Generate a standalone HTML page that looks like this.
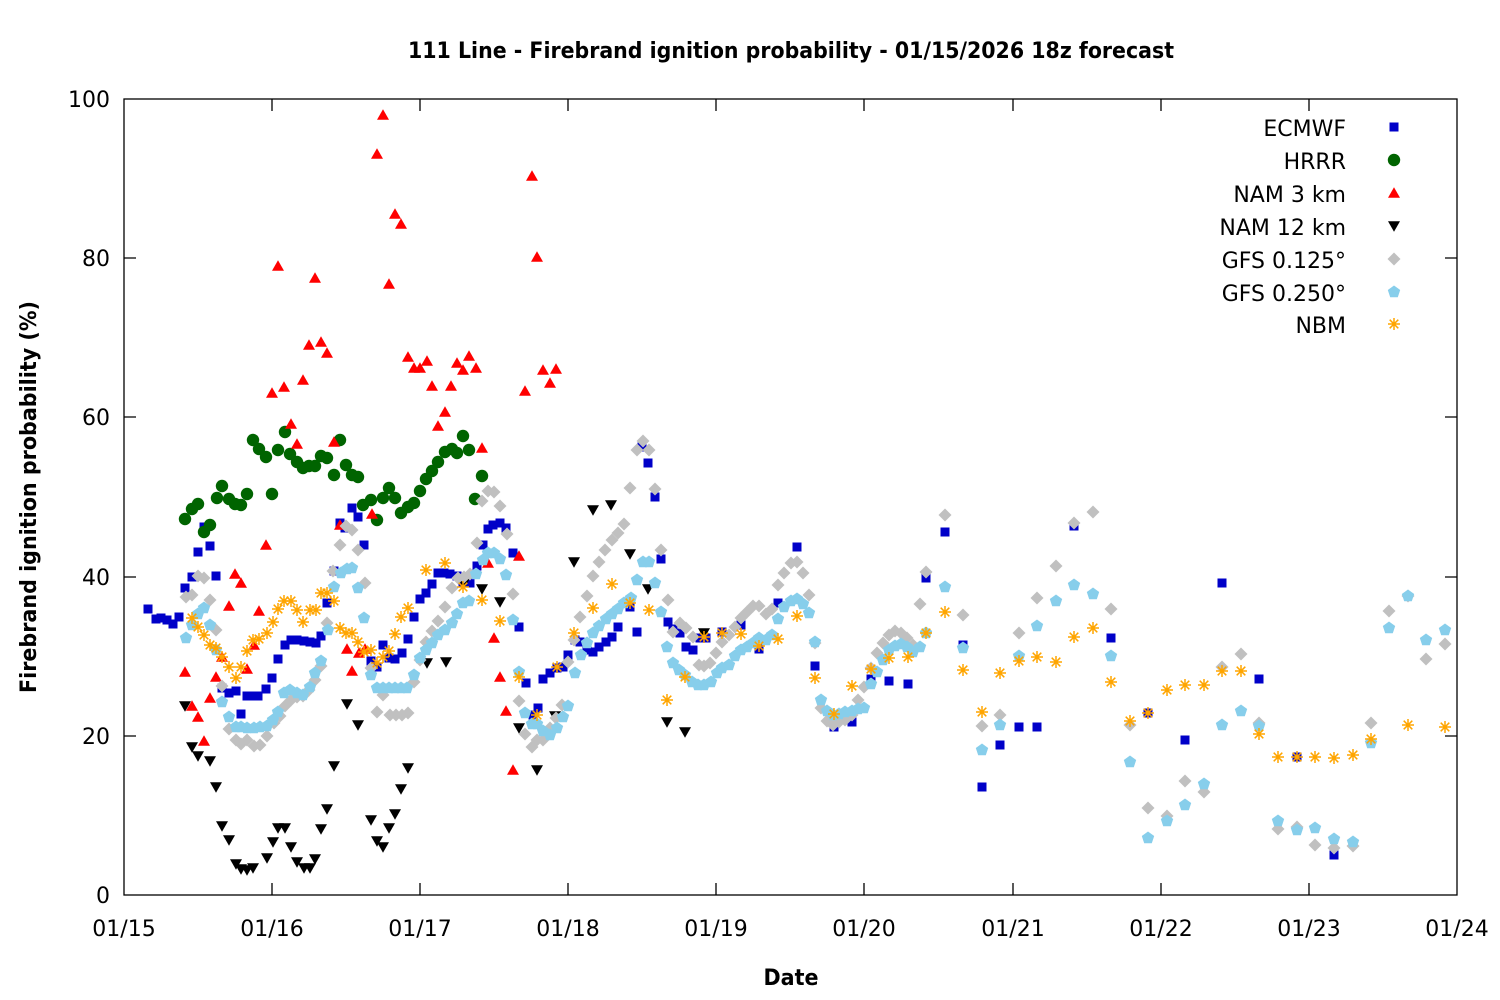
<!DOCTYPE html>
<html><head><meta charset="utf-8"><style>
html,body{margin:0;padding:0;background:#fff;}
svg{display:block;}
text{font-family:"DejaVu Sans","Liberation Sans",sans-serif;fill:#000;}
</style></head><body>
<svg width="1500" height="1000" viewBox="0 0 1500 1000" xmlns="http://www.w3.org/2000/svg" xmlns:xlink="http://www.w3.org/1999/xlink">
<defs>
<rect id="s" x="-4.5" y="-4.5" width="9" height="9" fill="#0000c8"/>
<circle id="c" r="6.2" fill="#006400"/>
<path id="u" d="M0,-5.8 L6,4.8 L-6,4.8Z" fill="#ff0000"/>
<path id="d" d="M0,5.8 L6,-4.8 L-6,-4.8Z" fill="#000"/>
<path id="g" d="M0,-6.5 L6.5,0 L0,6.5 L-6.5,0Z" fill="#c0c0c0"/>
<path id="p" d="M0,-6.5 L6.2,-2 L3.8,5.3 L-3.8,5.3 L-6.2,-2Z" fill="#87ceeb"/>
<path id="n" d="M-6,0H6M0,-6V6M-4.3,-4.3L4.3,4.3M-4.3,4.3L4.3,-4.3" stroke="#ffa500" stroke-width="1.5" fill="none"/>
</defs>
<rect width="1500" height="1000" fill="#fff"/>

<text x="791" y="58" font-size="22" font-weight="bold" text-anchor="middle" textLength="766" lengthAdjust="spacingAndGlyphs">111 Line - Firebrand ignition probability - 01/15/2026 18z forecast</text>

<!-- axes frame -->
<rect x="124" y="99" width="1333" height="796" fill="none" stroke="#000" stroke-width="1.3"/>
<g stroke="#000" stroke-width="1.3">
<path d="M124,736H136M124,577H136M124,417H136M124,258H136M1457,736H1445M1457,577H1445M1457,417H1445M1457,258H1445"/>
<path d="M272,895V883M420,895V883M568,895V883M716,895V883M864,895V883M1013,895V883M1161,895V883M1309,895V883M272,99V111M420,99V111M568,99V111M716,99V111M864,99V111M1013,99V111M1161,99V111M1309,99V111"/>
</g>
<g font-size="22" text-anchor="end">
<text x="110" y="107">100</text>
<text x="110" y="266">80</text>
<text x="110" y="425">60</text>
<text x="110" y="585">40</text>
<text x="110" y="744">20</text>
<text x="110" y="903">0</text>
</g>
<g font-size="22" text-anchor="middle">
<text x="124" y="936">01/15</text>
<text x="272" y="936">01/16</text>
<text x="420" y="936">01/17</text>
<text x="568" y="936">01/18</text>
<text x="716" y="936">01/19</text>
<text x="864" y="936">01/20</text>
<text x="1013" y="936">01/21</text>
<text x="1161" y="936">01/22</text>
<text x="1309" y="936">01/23</text>
<text x="1457" y="936">01/24</text>
</g>
<text x="791" y="985" font-size="22" font-weight="bold" text-anchor="middle" textLength="55" lengthAdjust="spacingAndGlyphs">Date</text>
<text transform="translate(36,497) rotate(-90)" font-size="22" font-weight="bold" text-anchor="middle" textLength="392" lengthAdjust="spacingAndGlyphs">Firebrand ignition probability (%)</text>

<!-- ECMWF -->
<g>
<use href="#s" x="148" y="609"/><use href="#s" x="156" y="619"/><use href="#s" x="161" y="618"/><use href="#s" x="167" y="620"/><use href="#s" x="173" y="624"/><use href="#s" x="179" y="617"/><use href="#s" x="185" y="588"/><use href="#s" x="192" y="577"/><use href="#s" x="198" y="552"/><use href="#s" x="204" y="527"/><use href="#s" x="210" y="546"/><use href="#s" x="216" y="576"/><use href="#s" x="222" y="688"/><use href="#s" x="229" y="693"/><use href="#s" x="236" y="691"/><use href="#s" x="241" y="714"/><use href="#s" x="247" y="696"/><use href="#s" x="252" y="696"/><use href="#s" x="258" y="696"/><use href="#s" x="266" y="689"/><use href="#s" x="272" y="678"/><use href="#s" x="278" y="659"/><use href="#s" x="285" y="645"/><use href="#s" x="291" y="640"/><use href="#s" x="297" y="640"/><use href="#s" x="304" y="641"/><use href="#s" x="310" y="642"/><use href="#s" x="316" y="643"/><use href="#s" x="321" y="636"/><use href="#s" x="327" y="603"/><use href="#s" x="334" y="571"/><use href="#s" x="340" y="523"/><use href="#s" x="345" y="528"/><use href="#s" x="352" y="508"/><use href="#s" x="358" y="517"/><use href="#s" x="364" y="545"/><use href="#s" x="371" y="661"/><use href="#s" x="377" y="667"/><use href="#s" x="383" y="645"/><use href="#s" x="389" y="658"/><use href="#s" x="395" y="659"/><use href="#s" x="402" y="653"/><use href="#s" x="408" y="639"/><use href="#s" x="414" y="617"/><use href="#s" x="420" y="599"/><use href="#s" x="426" y="593"/><use href="#s" x="432" y="584"/><use href="#s" x="438" y="573"/><use href="#s" x="444" y="573"/><use href="#s" x="450" y="574"/><use href="#s" x="457" y="576"/><use href="#s" x="463" y="582"/><use href="#s" x="470" y="583"/><use href="#s" x="477" y="566"/><use href="#s" x="483" y="545"/><use href="#s" x="488" y="529"/><use href="#s" x="493" y="525"/><use href="#s" x="500" y="523"/><use href="#s" x="506" y="528"/><use href="#s" x="513" y="553"/><use href="#s" x="519" y="627"/><use href="#s" x="526" y="683"/><use href="#s" x="533" y="715"/><use href="#s" x="538" y="708"/><use href="#s" x="543" y="679"/><use href="#s" x="550" y="673"/><use href="#s" x="557" y="668"/><use href="#s" x="563" y="667"/><use href="#s" x="568" y="655"/><use href="#s" x="575" y="640"/><use href="#s" x="580" y="642"/><use href="#s" x="587" y="650"/><use href="#s" x="593" y="652"/><use href="#s" x="599" y="647"/><use href="#s" x="606" y="642"/><use href="#s" x="612" y="637"/><use href="#s" x="618" y="627"/><use href="#s" x="630" y="607"/><use href="#s" x="637" y="632"/><use href="#s" x="642" y="447"/><use href="#s" x="648" y="463"/><use href="#s" x="655" y="497"/><use href="#s" x="661" y="559"/><use href="#s" x="668" y="622"/><use href="#s" x="673" y="629"/><use href="#s" x="680" y="633"/><use href="#s" x="686" y="647"/><use href="#s" x="693" y="650"/><use href="#s" x="700" y="638"/><use href="#s" x="706" y="638"/><use href="#s" x="722" y="632"/><use href="#s" x="741" y="625"/><use href="#s" x="759" y="649"/><use href="#s" x="778" y="603"/><use href="#s" x="797" y="547"/><use href="#s" x="815" y="666"/><use href="#s" x="834" y="727"/><use href="#s" x="852" y="722"/><use href="#s" x="871" y="679"/><use href="#s" x="889" y="681"/><use href="#s" x="908" y="684"/><use href="#s" x="926" y="578"/><use href="#s" x="945" y="532"/><use href="#s" x="963" y="645"/><use href="#s" x="982" y="787"/><use href="#s" x="1000" y="745"/><use href="#s" x="1019" y="727"/><use href="#s" x="1037" y="727"/><use href="#s" x="1074" y="526"/><use href="#s" x="1111" y="638"/><use href="#s" x="1148" y="713"/><use href="#s" x="1185" y="740"/><use href="#s" x="1222" y="583"/><use href="#s" x="1259" y="679"/><use href="#s" x="1297" y="757"/><use href="#s" x="1334" y="855"/>
</g>

<!-- HRRR -->
<g>
<use href="#c" x="185" y="519"/><use href="#c" x="192" y="509"/><use href="#c" x="198" y="504"/><use href="#c" x="204" y="532"/><use href="#c" x="210" y="525"/><use href="#c" x="217" y="498"/><use href="#c" x="222" y="486"/><use href="#c" x="229" y="499"/><use href="#c" x="235" y="504"/><use href="#c" x="241" y="505"/><use href="#c" x="247" y="494"/><use href="#c" x="253" y="440"/><use href="#c" x="259" y="449"/><use href="#c" x="266" y="457"/><use href="#c" x="272" y="494"/><use href="#c" x="278" y="450"/><use href="#c" x="285" y="432"/><use href="#c" x="290" y="454"/><use href="#c" x="297" y="462"/><use href="#c" x="303" y="468"/><use href="#c" x="309" y="466"/><use href="#c" x="315" y="466"/><use href="#c" x="321" y="456"/><use href="#c" x="327" y="458"/><use href="#c" x="334" y="475"/><use href="#c" x="340" y="440"/><use href="#c" x="346" y="465"/><use href="#c" x="352" y="475"/><use href="#c" x="358" y="477"/><use href="#c" x="363" y="505"/><use href="#c" x="371" y="500"/><use href="#c" x="377" y="520"/><use href="#c" x="383" y="498"/><use href="#c" x="389" y="488"/><use href="#c" x="395" y="498"/><use href="#c" x="401" y="513"/><use href="#c" x="408" y="507"/><use href="#c" x="414" y="503"/><use href="#c" x="420" y="491"/><use href="#c" x="426" y="479"/><use href="#c" x="432" y="471"/><use href="#c" x="438" y="462"/><use href="#c" x="445" y="452"/><use href="#c" x="452" y="449"/><use href="#c" x="457" y="453"/><use href="#c" x="463" y="436"/><use href="#c" x="469" y="450"/><use href="#c" x="475" y="499"/><use href="#c" x="482" y="476"/>
</g>

<!-- NAM 3 km -->
<g>
<use href="#u" x="185" y="672"/><use href="#u" x="192" y="706"/><use href="#u" x="198" y="717"/><use href="#u" x="204" y="741"/><use href="#u" x="210" y="698"/><use href="#u" x="216" y="677"/><use href="#u" x="222" y="657"/><use href="#u" x="229" y="606"/><use href="#u" x="235" y="574"/><use href="#u" x="241" y="583"/><use href="#u" x="247" y="669"/><use href="#u" x="254" y="645"/><use href="#u" x="259" y="611"/><use href="#u" x="266" y="545"/><use href="#u" x="272" y="393"/><use href="#u" x="278" y="266"/><use href="#u" x="284" y="387"/><use href="#u" x="291" y="424"/><use href="#u" x="297" y="444"/><use href="#u" x="303" y="380"/><use href="#u" x="309" y="345"/><use href="#u" x="315" y="278"/><use href="#u" x="321" y="342"/><use href="#u" x="327" y="353"/><use href="#u" x="334" y="442"/><use href="#u" x="340" y="525"/><use href="#u" x="347" y="649"/><use href="#u" x="352" y="671"/><use href="#u" x="359" y="653"/><use href="#u" x="365" y="649"/><use href="#u" x="372" y="514"/><use href="#u" x="377" y="154"/><use href="#u" x="383" y="115"/><use href="#u" x="389" y="284"/><use href="#u" x="395" y="214"/><use href="#u" x="401" y="224"/><use href="#u" x="408" y="357"/><use href="#u" x="414" y="368"/><use href="#u" x="420" y="368"/><use href="#u" x="427" y="361"/><use href="#u" x="432" y="386"/><use href="#u" x="438" y="426"/><use href="#u" x="445" y="412"/><use href="#u" x="451" y="386"/><use href="#u" x="457" y="363"/><use href="#u" x="463" y="370"/><use href="#u" x="469" y="356"/><use href="#u" x="476" y="368"/><use href="#u" x="482" y="448"/><use href="#u" x="488" y="563"/><use href="#u" x="494" y="638"/><use href="#u" x="500" y="677"/><use href="#u" x="506" y="711"/><use href="#u" x="513" y="770"/><use href="#u" x="519" y="556"/><use href="#u" x="525" y="391"/><use href="#u" x="532" y="176"/><use href="#u" x="537" y="257"/><use href="#u" x="543" y="370"/><use href="#u" x="550" y="383"/><use href="#u" x="556" y="369"/>
</g>

<!-- NAM 12 km -->
<g>
<use href="#d" x="185" y="706"/><use href="#d" x="192" y="747"/><use href="#d" x="198" y="756"/><use href="#d" x="210" y="761"/><use href="#d" x="216" y="787"/><use href="#d" x="222" y="826"/><use href="#d" x="229" y="840"/><use href="#d" x="236" y="864"/><use href="#d" x="241" y="869"/><use href="#d" x="247" y="870"/><use href="#d" x="253" y="868"/><use href="#d" x="267" y="858"/><use href="#d" x="273" y="842"/><use href="#d" x="278" y="828"/><use href="#d" x="285" y="828"/><use href="#d" x="291" y="847"/><use href="#d" x="297" y="862"/><use href="#d" x="304" y="868"/><use href="#d" x="310" y="868"/><use href="#d" x="315" y="859"/><use href="#d" x="321" y="829"/><use href="#d" x="327" y="809"/><use href="#d" x="334" y="766"/><use href="#d" x="347" y="704"/><use href="#d" x="358" y="725"/><use href="#d" x="371" y="820"/><use href="#d" x="377" y="841"/><use href="#d" x="383" y="847"/><use href="#d" x="389" y="828"/><use href="#d" x="395" y="814"/><use href="#d" x="401" y="789"/><use href="#d" x="408" y="768"/><use href="#d" x="427" y="663"/><use href="#d" x="446" y="662"/><use href="#d" x="464" y="583"/><use href="#d" x="482" y="589"/><use href="#d" x="500" y="602"/><use href="#d" x="519" y="728"/><use href="#d" x="537" y="770"/><use href="#d" x="555" y="716"/><use href="#d" x="574" y="562"/><use href="#d" x="593" y="510"/><use href="#d" x="611" y="505"/><use href="#d" x="630" y="554"/><use href="#d" x="648" y="589"/><use href="#d" x="667" y="722"/><use href="#d" x="685" y="732"/><use href="#d" x="704" y="633"/>
</g>

<!-- GFS 0.125 -->
<g>
<use href="#g" x="186" y="597"/><use href="#g" x="192" y="595"/><use href="#g" x="198" y="576"/><use href="#g" x="204" y="578"/><use href="#g" x="210" y="600"/><use href="#g" x="216" y="630"/><use href="#g" x="222" y="686"/><use href="#g" x="229" y="729"/><use href="#g" x="236" y="740"/><use href="#g" x="241" y="744"/><use href="#g" x="247" y="740"/><use href="#g" x="254" y="746"/><use href="#g" x="260" y="745"/><use href="#g" x="267" y="736"/><use href="#g" x="274" y="723"/><use href="#g" x="280" y="716"/><use href="#g" x="285" y="706"/><use href="#g" x="291" y="700"/><use href="#g" x="297" y="697"/><use href="#g" x="303" y="696"/><use href="#g" x="309" y="690"/><use href="#g" x="315" y="680"/><use href="#g" x="321" y="666"/><use href="#g" x="327" y="623"/><use href="#g" x="333" y="571"/><use href="#g" x="340" y="545"/><use href="#g" x="346" y="526"/><use href="#g" x="352" y="530"/><use href="#g" x="358" y="550"/><use href="#g" x="365" y="583"/><use href="#g" x="371" y="668"/><use href="#g" x="377" y="712"/><use href="#g" x="383" y="695"/><use href="#g" x="390" y="715"/><use href="#g" x="396" y="715"/><use href="#g" x="402" y="715"/><use href="#g" x="408" y="713"/><use href="#g" x="414" y="682"/><use href="#g" x="420" y="660"/><use href="#g" x="426" y="642"/><use href="#g" x="432" y="631"/><use href="#g" x="438" y="621"/><use href="#g" x="445" y="607"/><use href="#g" x="452" y="588"/><use href="#g" x="458" y="578"/><use href="#g" x="464" y="577"/><use href="#g" x="470" y="574"/><use href="#g" x="477" y="543"/><use href="#g" x="482" y="501"/><use href="#g" x="488" y="491"/><use href="#g" x="494" y="492"/><use href="#g" x="500" y="506"/><use href="#g" x="507" y="534"/><use href="#g" x="513" y="594"/><use href="#g" x="519" y="701"/><use href="#g" x="525" y="734"/><use href="#g" x="532" y="747"/><use href="#g" x="537" y="740"/><use href="#g" x="543" y="740"/><use href="#g" x="550" y="728"/><use href="#g" x="556" y="718"/><use href="#g" x="562" y="705"/><use href="#g" x="568" y="662"/><use href="#g" x="574" y="640"/><use href="#g" x="580" y="617"/><use href="#g" x="587" y="596"/><use href="#g" x="593" y="576"/><use href="#g" x="599" y="562"/><use href="#g" x="605" y="550"/><use href="#g" x="612" y="540"/><use href="#g" x="618" y="533"/><use href="#g" x="624" y="524"/><use href="#g" x="630" y="488"/><use href="#g" x="637" y="450"/><use href="#g" x="643" y="441"/><use href="#g" x="649" y="450"/><use href="#g" x="655" y="489"/><use href="#g" x="661" y="550"/><use href="#g" x="668" y="600"/><use href="#g" x="673" y="632"/><use href="#g" x="680" y="623"/><use href="#g" x="686" y="628"/><use href="#g" x="693" y="637"/><use href="#g" x="699" y="665"/><use href="#g" x="704" y="666"/><use href="#g" x="710" y="663"/><use href="#g" x="716" y="653"/><use href="#g" x="722" y="642"/><use href="#g" x="729" y="635"/><use href="#g" x="735" y="627"/><use href="#g" x="741" y="618"/><use href="#g" x="747" y="612"/><use href="#g" x="753" y="606"/><use href="#g" x="759" y="606"/><use href="#g" x="766" y="614"/><use href="#g" x="772" y="609"/><use href="#g" x="778" y="585"/><use href="#g" x="784" y="573"/><use href="#g" x="791" y="563"/><use href="#g" x="797" y="562"/><use href="#g" x="803" y="573"/><use href="#g" x="809" y="595"/><use href="#g" x="815" y="643"/><use href="#g" x="821" y="708"/><use href="#g" x="827" y="721"/><use href="#g" x="833" y="725"/><use href="#g" x="839" y="722"/><use href="#g" x="845" y="720"/><use href="#g" x="852" y="715"/><use href="#g" x="858" y="700"/><use href="#g" x="864" y="687"/><use href="#g" x="871" y="668"/><use href="#g" x="877" y="653"/><use href="#g" x="883" y="643"/><use href="#g" x="889" y="635"/><use href="#g" x="895" y="631"/><use href="#g" x="901" y="633"/><use href="#g" x="907" y="638"/><use href="#g" x="913" y="645"/><use href="#g" x="920" y="604"/><use href="#g" x="926" y="572"/><use href="#g" x="945" y="515"/><use href="#g" x="963" y="615"/><use href="#g" x="982" y="726"/><use href="#g" x="1000" y="715"/><use href="#g" x="1019" y="633"/><use href="#g" x="1037" y="598"/><use href="#g" x="1056" y="566"/><use href="#g" x="1074" y="523"/><use href="#g" x="1093" y="512"/><use href="#g" x="1111" y="609"/><use href="#g" x="1130" y="725"/><use href="#g" x="1148" y="808"/><use href="#g" x="1167" y="816"/><use href="#g" x="1185" y="781"/><use href="#g" x="1204" y="792"/><use href="#g" x="1222" y="667"/><use href="#g" x="1241" y="654"/><use href="#g" x="1259" y="723"/><use href="#g" x="1278" y="829"/><use href="#g" x="1297" y="827"/><use href="#g" x="1315" y="845"/><use href="#g" x="1334" y="848"/><use href="#g" x="1353" y="846"/><use href="#g" x="1371" y="723"/><use href="#g" x="1389" y="611"/><use href="#g" x="1408" y="596"/><use href="#g" x="1426" y="659"/><use href="#g" x="1445" y="644"/>
</g>

<!-- GFS 0.250 -->
<g>
<use href="#p" x="186" y="638"/><use href="#p" x="192" y="625"/><use href="#p" x="198" y="614"/><use href="#p" x="204" y="608"/><use href="#p" x="210" y="625"/><use href="#p" x="216" y="650"/><use href="#p" x="222" y="702"/><use href="#p" x="229" y="717"/><use href="#p" x="236" y="727"/><use href="#p" x="241" y="727"/><use href="#p" x="247" y="728"/><use href="#p" x="254" y="728"/><use href="#p" x="260" y="727"/><use href="#p" x="267" y="726"/><use href="#p" x="273" y="720"/><use href="#p" x="278" y="712"/><use href="#p" x="284" y="693"/><use href="#p" x="290" y="690"/><use href="#p" x="297" y="693"/><use href="#p" x="303" y="695"/><use href="#p" x="310" y="687"/><use href="#p" x="315" y="673"/><use href="#p" x="321" y="661"/><use href="#p" x="328" y="630"/><use href="#p" x="334" y="587"/><use href="#p" x="341" y="573"/><use href="#p" x="347" y="569"/><use href="#p" x="352" y="568"/><use href="#p" x="358" y="588"/><use href="#p" x="364" y="618"/><use href="#p" x="371" y="675"/><use href="#p" x="377" y="688"/><use href="#p" x="383" y="688"/><use href="#p" x="389" y="688"/><use href="#p" x="395" y="688"/><use href="#p" x="401" y="688"/><use href="#p" x="407" y="688"/><use href="#p" x="414" y="675"/><use href="#p" x="420" y="658"/><use href="#p" x="426" y="650"/><use href="#p" x="432" y="643"/><use href="#p" x="438" y="635"/><use href="#p" x="445" y="630"/><use href="#p" x="452" y="623"/><use href="#p" x="457" y="614"/><use href="#p" x="463" y="603"/><use href="#p" x="469" y="601"/><use href="#p" x="476" y="574"/><use href="#p" x="483" y="560"/><use href="#p" x="488" y="553"/><use href="#p" x="494" y="553"/><use href="#p" x="500" y="559"/><use href="#p" x="506" y="575"/><use href="#p" x="513" y="620"/><use href="#p" x="519" y="672"/><use href="#p" x="525" y="713"/><use href="#p" x="532" y="724"/><use href="#p" x="537" y="724"/><use href="#p" x="543" y="731"/><use href="#p" x="550" y="735"/><use href="#p" x="557" y="728"/><use href="#p" x="563" y="717"/><use href="#p" x="568" y="706"/><use href="#p" x="575" y="673"/><use href="#p" x="581" y="655"/><use href="#p" x="587" y="643"/><use href="#p" x="593" y="633"/><use href="#p" x="599" y="626"/><use href="#p" x="606" y="619"/><use href="#p" x="612" y="614"/><use href="#p" x="618" y="609"/><use href="#p" x="624" y="603"/><use href="#p" x="631" y="598"/><use href="#p" x="637" y="580"/><use href="#p" x="643" y="562"/><use href="#p" x="649" y="562"/><use href="#p" x="655" y="583"/><use href="#p" x="661" y="612"/><use href="#p" x="667" y="647"/><use href="#p" x="673" y="663"/><use href="#p" x="679" y="670"/><use href="#p" x="685" y="675"/><use href="#p" x="692" y="682"/><use href="#p" x="698" y="685"/><use href="#p" x="704" y="685"/><use href="#p" x="711" y="682"/><use href="#p" x="717" y="673"/><use href="#p" x="722" y="668"/><use href="#p" x="729" y="665"/><use href="#p" x="735" y="656"/><use href="#p" x="741" y="650"/><use href="#p" x="747" y="647"/><use href="#p" x="753" y="643"/><use href="#p" x="759" y="638"/><use href="#p" x="766" y="640"/><use href="#p" x="772" y="635"/><use href="#p" x="778" y="619"/><use href="#p" x="784" y="607"/><use href="#p" x="791" y="601"/><use href="#p" x="797" y="599"/><use href="#p" x="803" y="604"/><use href="#p" x="809" y="613"/><use href="#p" x="815" y="642"/><use href="#p" x="821" y="700"/><use href="#p" x="827" y="711"/><use href="#p" x="833" y="715"/><use href="#p" x="839" y="714"/><use href="#p" x="845" y="712"/><use href="#p" x="852" y="711"/><use href="#p" x="858" y="709"/><use href="#p" x="864" y="708"/><use href="#p" x="871" y="684"/><use href="#p" x="877" y="672"/><use href="#p" x="883" y="660"/><use href="#p" x="889" y="650"/><use href="#p" x="895" y="646"/><use href="#p" x="901" y="644"/><use href="#p" x="907" y="647"/><use href="#p" x="913" y="652"/><use href="#p" x="920" y="647"/><use href="#p" x="926" y="633"/><use href="#p" x="945" y="587"/><use href="#p" x="963" y="648"/><use href="#p" x="982" y="750"/><use href="#p" x="1000" y="725"/><use href="#p" x="1019" y="656"/><use href="#p" x="1037" y="626"/><use href="#p" x="1056" y="601"/><use href="#p" x="1074" y="585"/><use href="#p" x="1093" y="594"/><use href="#p" x="1111" y="656"/><use href="#p" x="1130" y="762"/><use href="#p" x="1148" y="838"/><use href="#p" x="1167" y="821"/><use href="#p" x="1185" y="805"/><use href="#p" x="1204" y="784"/><use href="#p" x="1222" y="725"/><use href="#p" x="1241" y="711"/><use href="#p" x="1259" y="726"/><use href="#p" x="1278" y="821"/><use href="#p" x="1297" y="830"/><use href="#p" x="1315" y="828"/><use href="#p" x="1334" y="839"/><use href="#p" x="1353" y="842"/><use href="#p" x="1371" y="743"/><use href="#p" x="1389" y="628"/><use href="#p" x="1408" y="596"/><use href="#p" x="1426" y="640"/><use href="#p" x="1445" y="630"/>
</g>

<!-- NBM -->
<g>
<use href="#n" x="192" y="618"/><use href="#n" x="198" y="627"/><use href="#n" x="204" y="635"/><use href="#n" x="210" y="645"/><use href="#n" x="216" y="648"/><use href="#n" x="222" y="657"/><use href="#n" x="229" y="667"/><use href="#n" x="236" y="678"/><use href="#n" x="241" y="667"/><use href="#n" x="247" y="651"/><use href="#n" x="253" y="640"/><use href="#n" x="259" y="639"/><use href="#n" x="267" y="633"/><use href="#n" x="273" y="622"/><use href="#n" x="278" y="609"/><use href="#n" x="284" y="601"/><use href="#n" x="291" y="601"/><use href="#n" x="297" y="610"/><use href="#n" x="303" y="622"/><use href="#n" x="310" y="610"/><use href="#n" x="316" y="610"/><use href="#n" x="321" y="593"/><use href="#n" x="327" y="593"/><use href="#n" x="334" y="601"/><use href="#n" x="340" y="628"/><use href="#n" x="346" y="633"/><use href="#n" x="352" y="633"/><use href="#n" x="358" y="642"/><use href="#n" x="364" y="652"/><use href="#n" x="371" y="650"/><use href="#n" x="377" y="663"/><use href="#n" x="383" y="657"/><use href="#n" x="389" y="651"/><use href="#n" x="395" y="634"/><use href="#n" x="401" y="617"/><use href="#n" x="408" y="608"/><use href="#n" x="426" y="570"/><use href="#n" x="445" y="563"/><use href="#n" x="463" y="587"/><use href="#n" x="482" y="600"/><use href="#n" x="500" y="621"/><use href="#n" x="519" y="677"/><use href="#n" x="537" y="715"/><use href="#n" x="557" y="667"/><use href="#n" x="574" y="633"/><use href="#n" x="593" y="608"/><use href="#n" x="612" y="584"/><use href="#n" x="630" y="603"/><use href="#n" x="649" y="610"/><use href="#n" x="667" y="700"/><use href="#n" x="685" y="677"/><use href="#n" x="704" y="637"/><use href="#n" x="722" y="633"/><use href="#n" x="741" y="634"/><use href="#n" x="759" y="646"/><use href="#n" x="778" y="639"/><use href="#n" x="797" y="616"/><use href="#n" x="815" y="678"/><use href="#n" x="834" y="714"/><use href="#n" x="852" y="686"/><use href="#n" x="871" y="669"/><use href="#n" x="889" y="658"/><use href="#n" x="908" y="657"/><use href="#n" x="926" y="633"/><use href="#n" x="945" y="612"/><use href="#n" x="963" y="670"/><use href="#n" x="982" y="712"/><use href="#n" x="1000" y="673"/><use href="#n" x="1019" y="661"/><use href="#n" x="1037" y="657"/><use href="#n" x="1056" y="662"/><use href="#n" x="1074" y="637"/><use href="#n" x="1093" y="628"/><use href="#n" x="1111" y="682"/><use href="#n" x="1130" y="721"/><use href="#n" x="1148" y="713"/><use href="#n" x="1167" y="690"/><use href="#n" x="1185" y="685"/><use href="#n" x="1204" y="685"/><use href="#n" x="1222" y="671"/><use href="#n" x="1241" y="671"/><use href="#n" x="1259" y="734"/><use href="#n" x="1278" y="757"/><use href="#n" x="1297" y="757"/><use href="#n" x="1315" y="757"/><use href="#n" x="1334" y="758"/><use href="#n" x="1353" y="755"/><use href="#n" x="1371" y="739"/><use href="#n" x="1408" y="725"/><use href="#n" x="1445" y="727"/>
</g>

<!-- legend -->
<g font-size="22" text-anchor="end">
<text x="1346" y="136">ECMWF</text>
<text x="1346" y="169">HRRR</text>
<text x="1346" y="202">NAM 3 km</text>
<text x="1346" y="235">NAM 12 km</text>
<text x="1346" y="268">GFS 0.125°</text>
<text x="1346" y="301">GFS 0.250°</text>
<text x="1346" y="333">NBM</text>
</g>
<use href="#s" x="1394" y="127"/>
<use href="#c" x="1394" y="160"/>
<use href="#u" x="1394" y="193"/>
<use href="#d" x="1394" y="226"/>
<use href="#g" x="1394" y="259"/>
<use href="#p" x="1394" y="292"/>
<use href="#n" x="1394" y="324"/>
</svg>
</body></html>
